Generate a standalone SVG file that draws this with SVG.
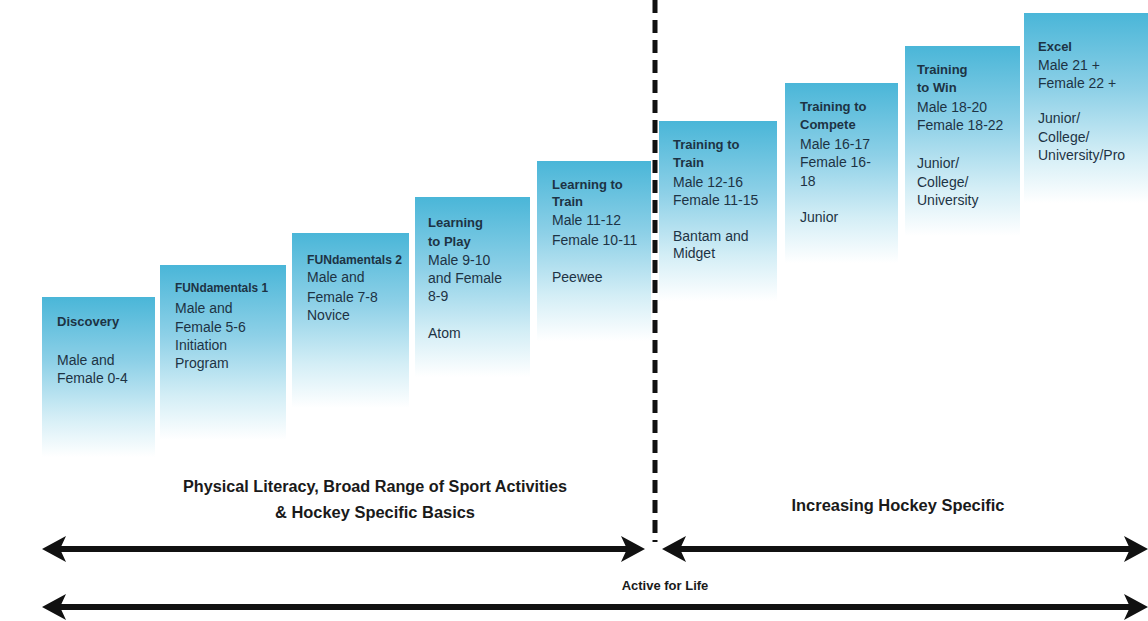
<svg xmlns="http://www.w3.org/2000/svg" width="1148" height="621" viewBox="0 0 1148 621">
<defs>
<linearGradient id="fade" x1="0" y1="0" x2="0" y2="1">
<stop offset="0" stop-color="#4ab6d8"/>
<stop offset="0.4" stop-color="#8dd0e7"/>
<stop offset="0.75" stop-color="#d4eef6"/>
<stop offset="1" stop-color="#ffffff"/>
</linearGradient>
</defs>
<style>
.col{fill:url(#fade);}
.t{font-family:"Liberation Sans","Arial",sans-serif;font-size:14px;fill:#1d3344;}
.b{font-weight:bold;font-size:13px;}
.lbl{font-family:"Liberation Sans","Arial",sans-serif;font-size:16px;font-weight:bold;fill:#1a1a1a;text-anchor:middle;}
.sm{font-size:13px;}
.dash{stroke:#111;stroke-width:5;stroke-dasharray:13 7;fill:none;}
.shaft{stroke:#111;stroke-width:6;fill:none;}
.head{fill:#111;}
</style>
<rect width="1148" height="621" fill="#ffffff"/>

<g id="discovery">
<rect class="col" x="42" y="297" width="113" height="160"/>
<text class="t b" x="57" y="326">Discovery</text>
<text class="t" x="57" y="365">Male and</text>
<text class="t" x="57" y="383">Female 0-4</text>
</g>
<g id="fundamentals1">
<rect class="col" x="160" y="265" width="126" height="175"/>
<text class="t b" x="175" y="292" textLength="93" lengthAdjust="spacingAndGlyphs">FUNdamentals 1</text>
<text class="t" x="175" y="313">Male and</text>
<text class="t" x="175" y="332">Female 5-6</text>
<text class="t" x="175" y="350">Initiation</text>
<text class="t" x="175" y="368">Program</text>
</g>
<g id="fundamentals2">
<rect class="col" x="292" y="233" width="117" height="175"/>
<text class="t b" x="307" y="264" textLength="95" lengthAdjust="spacingAndGlyphs">FUNdamentals 2</text>
<text class="t" x="307" y="282">Male and</text>
<text class="t" x="307" y="302">Female 7-8</text>
<text class="t" x="307" y="320">Novice</text>
</g>
<g id="learning-to-play">
<rect class="col" x="415" y="197" width="115" height="180"/>
<text class="t b" x="428" y="227">Learning</text>
<text class="t b" x="428" y="246">to Play</text>
<text class="t" x="428" y="265">Male 9-10</text>
<text class="t" x="428" y="283">and Female</text>
<text class="t" x="428" y="301">8-9</text>
<text class="t" x="428" y="338">Atom</text>
</g>
<g id="learning-to-train">
<rect class="col" x="537" y="161" width="114" height="180"/>
<text class="t b" x="552" y="189">Learning to</text>
<text class="t b" x="552" y="206">Train</text>
<text class="t" x="552" y="225">Male 11-12</text>
<text class="t" x="552" y="245">Female 10-11</text>
<text class="t" x="552" y="282">Peewee</text>
</g>
<g id="training-to-train">
<rect class="col" x="659" y="121" width="118" height="180"/>
<text class="t b" x="673" y="149">Training to</text>
<text class="t b" x="673" y="167">Train</text>
<text class="t" x="673" y="187">Male 12-16</text>
<text class="t" x="673" y="205">Female 11-15</text>
<text class="t" x="673" y="241">Bantam and</text>
<text class="t" x="673" y="258">Midget</text>
</g>
<g id="training-to-compete">
<rect class="col" x="785" y="83" width="113" height="180"/>
<text class="t b" x="800" y="111">Training to</text>
<text class="t b" x="800" y="129">Compete</text>
<text class="t" x="800" y="149">Male 16-17</text>
<text class="t" x="800" y="167">Female 16-</text>
<text class="t" x="800" y="186">18</text>
<text class="t" x="800" y="222">Junior</text>
</g>
<g id="training-to-win">
<rect class="col" x="905" y="46" width="115" height="190"/>
<text class="t b" x="917" y="74">Training</text>
<text class="t b" x="917" y="92">to Win</text>
<text class="t" x="917" y="112">Male 18-20</text>
<text class="t" x="917" y="130">Female 18-22</text>
<text class="t" x="917" y="168">Junior/</text>
<text class="t" x="917" y="187">College/</text>
<text class="t" x="917" y="205">University</text>
</g>
<g id="excel">
<rect class="col" x="1024" y="13" width="124" height="190"/>
<text class="t b" x="1038" y="51">Excel</text>
<text class="t" x="1038" y="70">Male 21 +</text>
<text class="t" x="1038" y="88">Female 22 +</text>
<text class="t" x="1038" y="123">Junior/</text>
<text class="t" x="1038" y="142">College/</text>
<text class="t" x="1038" y="160">University/Pro</text>
</g>

<g id="labels">
<text class="lbl" x="375" y="492" textLength="384" lengthAdjust="spacingAndGlyphs">Physical Literacy, Broad Range of Sport Activities</text>
<text class="lbl" x="375" y="518" textLength="200" lengthAdjust="spacingAndGlyphs">&amp; Hockey Specific Basics</text>
<text class="lbl" x="898" y="511" textLength="213" lengthAdjust="spacingAndGlyphs">Increasing Hockey Specific</text>
<text class="lbl sm" x="665" y="590">Active for Life</text>
</g>

<g id="connectors">
<line class="dash" x1="655" y1="0" x2="655" y2="542"/>
<line class="shaft" x1="58" y1="549" x2="628" y2="549"/>
<polygon class="head" points="42,549 66,536 60,549 66,562"/>
<polygon class="head" points="645,549 621,536 627,549 621,562"/>
<line class="shaft" x1="678" y1="549" x2="1132" y2="549"/>
<polygon class="head" points="662,549 686,536 680,549 686,562"/>
<polygon class="head" points="1148,549 1124,536 1130,549 1124,562"/>
<line class="shaft" x1="58" y1="607" x2="1132" y2="607"/>
<polygon class="head" points="42,607 66,594 60,607 66,620"/>
<polygon class="head" points="1148,607 1124,594 1130,607 1124,620"/>
</g>
</svg>
